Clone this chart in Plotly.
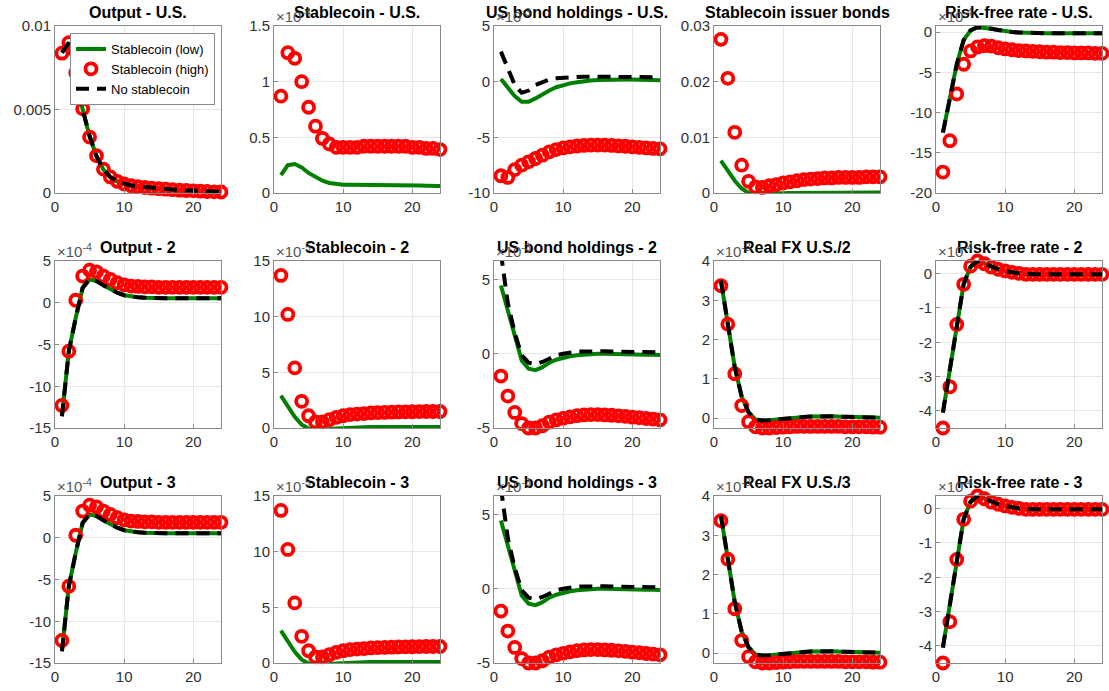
import plotly.graph_objects as go

periods = list(range(1, 25))

# Panel 1: Output - U.S.
out_us_low = [0.0084, 0.0090, 0.0072, 0.0050, 0.0034, 0.0022, 0.0014, 0.00095, 0.0007, 0.00055, 0.00045, 0.0004,
              0.00035, 0.0003, 0.00027, 0.00024, 0.00021, 0.00018, 0.00016, 0.00014, 0.00012, 0.0001, 0.00008, 0.00007]
out_us_high = [0.00837, 0.0090, 0.0072, 0.00504, 0.00335, 0.00223, 0.00143, 0.00096, 0.0007, 0.00054, 0.00044, 0.00038,
               0.00033, 0.00029, 0.00026, 0.00023, 0.0002, 0.00017, 0.00015, 0.00013, 0.00011, 0.00009, 0.00007, 0.00006]
out_us_none = out_us_low

# Panel 2: Stablecoin - U.S. (x1e-4)
sc_us_low = [0.16, 0.25, 0.26, 0.23, 0.18, 0.14, 0.11, 0.09, 0.08, 0.075, 0.075, 0.075,
             0.075, 0.075, 0.075, 0.073, 0.072, 0.07, 0.07, 0.068, 0.067, 0.065, 0.064, 0.063]
sc_us_high = [0.87, 1.26, 1.21, 1.0, 0.77, 0.60, 0.49, 0.44, 0.41, 0.41, 0.41, 0.41,
              0.42, 0.42, 0.42, 0.42, 0.42, 0.42, 0.42, 0.41, 0.41, 0.40, 0.40, 0.39]

# Panel 3: US bond holdings - U.S. (x1e-3)
bond_us_low = [0.25, -0.5, -1.3, -1.8, -1.8, -1.5, -1.1, -0.8, -0.5, -0.3, -0.15, -0.05,
               0.05, 0.1, 0.15, 0.18, 0.2, 0.2, 0.2, 0.2, 0.18, 0.16, 0.15, 0.12]
bond_us_high = [-8.45, -8.6, -7.9, -7.5, -7.2, -6.9, -6.6, -6.3, -6.1, -5.95, -5.85, -5.78,
                -5.73, -5.7, -5.7, -5.7, -5.73, -5.77, -5.8, -5.85, -5.9, -5.95, -6.0, -6.03]
bond_us_none = [2.7, 1.2, -0.3, -1.0, -0.8, -0.3, 0.0, 0.2, 0.3, 0.35, 0.4, 0.4,
                0.45, 0.45, 0.45, 0.45, 0.45, 0.45, 0.45, 0.42, 0.42, 0.4, 0.4, 0.4]

# Panel 4: Stablecoin issuer bonds
issuer_low = [0.0058, 0.0040, 0.0022, 0.0008, 0.0000, -0.0002, -0.0002, -0.00015, -0.0001, -0.00005, 0.0, 0.0,
              0.00002, 0.00003, 0.00004, 0.00005, 0.00006, 0.00007, 0.00008, 0.00009, 0.0001, 0.0001, 0.0001, 0.0001]
issuer_high = [0.0276, 0.0206, 0.0109, 0.0050, 0.0021, 0.0011, 0.0010, 0.0013, 0.0015, 0.0018, 0.0020, 0.0022,
               0.0024, 0.0025, 0.0026, 0.0027, 0.0027, 0.0028, 0.0028, 0.0028, 0.0028, 0.0029, 0.0029, 0.0029]

# Panel 5: Risk-free rate - U.S. (x1e-4)
rf_us_low = [-12.5, -8.2, -4.0, -1.0, 0.2, 0.6, 0.55, 0.4, 0.25, 0.1, 0.0, -0.05,
             -0.1, -0.1, -0.12, -0.15, -0.15, -0.15, -0.15, -0.15, -0.15, -0.15, -0.15, -0.15]
rf_us_high = [-17.4, -13.5, -7.7, -4.0, -2.35, -1.85, -1.7, -1.75, -1.95, -2.1, -2.2, -2.3,
              -2.35, -2.4, -2.45, -2.5, -2.5, -2.55, -2.55, -2.6, -2.6, -2.6, -2.65, -2.65]
rf_us_none = rf_us_low

# Panels 6/11: Output - 2 / 3 (x1e-4)
out_f_low = [-13.6, -5.8, -1.8, 1.8, 2.8, 2.6, 2.1, 1.6, 1.2, 0.9, 0.75, 0.65,
             0.6, 0.55, 0.55, 0.55, 0.55, 0.55, 0.55, 0.55, 0.55, 0.55, 0.55, 0.55]
out_f_high = [-12.3, -5.8, 0.3, 3.2, 3.9, 3.7, 3.2, 2.8, 2.4, 2.15, 2.0, 1.95,
              1.9, 1.9, 1.85, 1.85, 1.85, 1.85, 1.85, 1.85, 1.85, 1.85, 1.85, 1.85]
out_f_none = out_f_low

# Panels 7/12: Stablecoin - 2 / 3 (x1e-5)
sc_f_low = [2.9, 2.0, 1.0, 0.3, -0.05, -0.15, -0.15, -0.1, -0.05, 0.0, 0.03, 0.05,
            0.07, 0.08, 0.09, 0.1, 0.1, 0.1, 0.1, 0.1, 0.1, 0.1, 0.1, 0.1]
sc_f_high = [13.7, 10.2, 5.4, 2.4, 1.1, 0.55, 0.55, 0.75, 0.95, 1.1, 1.2, 1.25,
             1.3, 1.35, 1.38, 1.4, 1.42, 1.44, 1.45, 1.46, 1.47, 1.48, 1.48, 1.48]

# Panels 8/13: US bond holdings - 2 / 3 (x1e-3)
bond_f_low = [4.6, 2.9, 1.1, -0.45, -1.0, -1.1, -0.9, -0.6, -0.4, -0.27, -0.17, -0.1,
              -0.05, -0.02, 0.0, 0.0, 0.0, -0.02, -0.03, -0.05, -0.05, -0.06, -0.07, -0.08]
bond_f_high = [-1.5, -2.85, -3.95, -4.7, -5.0, -5.0, -4.85, -4.6, -4.45, -4.35, -4.25, -4.17,
               -4.12, -4.1, -4.1, -4.12, -4.14, -4.18, -4.22, -4.27, -4.31, -4.36, -4.4, -4.45]
bond_f_none = [6.8, 3.4, 1.4, -0.1, -0.6, -0.7, -0.55, -0.3, -0.1, 0.0, 0.1, 0.15,
               0.15, 0.17, 0.17, 0.17, 0.15, 0.15, 0.15, 0.12, 0.12, 0.1, 0.1, 0.1]

# Panels 9/14: Real FX (x1e-3)
fx_low = [3.5, 2.4, 1.3, 0.55, 0.15, -0.03, -0.06, -0.05, -0.03, -0.01, 0.0, 0.02,
          0.03, 0.04, 0.05, 0.05, 0.05, 0.04, 0.04, 0.03, 0.03, 0.02, 0.02, 0.01]
fx_high = [3.37, 2.39, 1.13, 0.32, -0.09, -0.22, -0.25, -0.25, -0.24, -0.23, -0.22, -0.21,
           -0.21, -0.21, -0.21, -0.21, -0.21, -0.21, -0.22, -0.22, -0.22, -0.22, -0.23, -0.23]
fx_none = fx_low

# Panels 10/15: Risk-free rate - 2 / 3 (x1e-4)
rf_f_low = [-4.05, -2.8, -1.45, -0.3, 0.2, 0.37, 0.3, 0.2, 0.13, 0.08, 0.04, 0.01,
            -0.01, -0.02, -0.02, -0.02, -0.02, -0.02, -0.02, -0.02, -0.02, -0.02, -0.02, -0.02]
rf_f_high = [-4.5, -3.3, -1.48, -0.31, 0.22, 0.37, 0.29, 0.19, 0.13, 0.08, 0.04, 0.01,
             -0.02, -0.02, -0.02, -0.02, -0.02, -0.02, -0.02, -0.02, -0.02, -0.02, -0.02, -0.02]
rf_f_none = rf_f_low

titles = ["Output - U.S.", "Stablecoin - U.S.", "US bond holdings - U.S.", "Stablecoin issuer bonds", "Risk-free rate - U.S.",
          "Output - 2", "Stablecoin - 2", "US bond holdings - 2", "Real FX U.S./2", "Risk-free rate - 2",
          "Output - 3", "Stablecoin - 3", "US bond holdings - 3", "Real FX U.S./3", "Risk-free rate - 3"]
exponents = [None, "-4", "-3", None, "-4",
             "-4", "-5", "-3", "-3", "-4",
             "-4", "-5", "-3", "-3", "-4"]
y_ranges = [[0, 0.01], [0, 1.5], [-10, 5], [0, 0.03], [-20, 0.75],
            [-15, 5], [0, 15], [-5, 6.25], [-0.25, 4], [-4.5, 0.37],
            [-15, 5], [0, 15], [-5, 6.25], [-0.25, 4], [-4.5, 0.37]]
y_ticks = [[0, 0.005, 0.01], [0, 0.5, 1, 1.5], [-10, -5, 0, 5], [0, 0.01, 0.02, 0.03], [-20, -15, -10, -5, 0],
           [-15, -10, -5, 0, 5], [0, 5, 10, 15], [-5, 0, 5], [0, 1, 2, 3, 4], [-4, -3, -2, -1, 0],
           [-15, -10, -5, 0, 5], [0, 5, 10, 15], [-5, 0, 5], [0, 1, 2, 3, 4], [-4, -3, -2, -1, 0]]
y_ticklabels = [["0", "0.005", "0.01"], ["0", "0.5", "1", "1.5"], ["-10", "-5", "0", "5"],
                ["0", "0.01", "0.02", "0.03"], ["-20", "-15", "-10", "-5", "0"],
                ["-15", "-10", "-5", "0", "5"], ["0", "5", "10", "15"], ["-5", "0", "5"],
                ["0", "1", "2", "3", "4"], ["-4", "-3", "-2", "-1", "0"],
                ["-15", "-10", "-5", "0", "5"], ["0", "5", "10", "15"], ["-5", "0", "5"],
                ["0", "1", "2", "3", "4"], ["-4", "-3", "-2", "-1", "0"]]
x_ticks = [0, 10, 20]

panel_low = [out_us_low, sc_us_low, bond_us_low, issuer_low, rf_us_low,
             out_f_low, sc_f_low, bond_f_low, fx_low, rf_f_low,
             out_f_low, sc_f_low, bond_f_low, fx_low, rf_f_low]
panel_high = [out_us_high, sc_us_high, bond_us_high, issuer_high, rf_us_high,
              out_f_high, sc_f_high, bond_f_high, fx_high, rf_f_high,
              out_f_high, sc_f_high, bond_f_high, fx_high, rf_f_high]
panel_none = [out_us_none, None, bond_us_none, None, rf_us_none,
              out_f_none, None, bond_f_none, fx_none, rf_f_none,
              out_f_none, None, bond_f_none, fx_none, rf_f_none]

W, H = 1109, 691
col_left = [55, 274, 494, 714, 936]
col_width = 166
row_top = [26, 261, 496]
row_height = 167

FONT = "Liberation Sans, Arial, sans-serif"
GREEN = "rgb(0,128,0)"
fig = go.Figure()
layout = {}
annotations = []

for i in range(15):
    r, c = divmod(i, 5)
    n = i + 1
    xa = "x" if n == 1 else f"x{n}"
    ya = "y" if n == 1 else f"y{n}"
    xkey = "xaxis" if n == 1 else f"xaxis{n}"
    ykey = "yaxis" if n == 1 else f"yaxis{n}"
    x0 = col_left[c] / W
    x1 = (col_left[c] + col_width) / W
    y1 = 1 - row_top[r] / H
    y0 = 1 - (row_top[r] + row_height) / H
    axis_common = dict(showline=True, mirror=True, linecolor="#8a8a8a", linewidth=1,
                       showgrid=True, gridcolor="#e6e6e6", gridwidth=1, zeroline=False,
                       ticks="inside", ticklen=4, tickcolor="#8a8a8a", automargin=False,
                       tickfont=dict(family=FONT, size=15, color="#303030"))
    layout[xkey] = dict(domain=[x0, x1], anchor=ya, range=[0, 24], tickvals=x_ticks,
                        ticktext=[str(t) for t in x_ticks], **axis_common)
    layout[ykey] = dict(domain=[y0, y1], anchor=xa, range=y_ranges[i], tickvals=y_ticks[i],
                        ticktext=y_ticklabels[i], **axis_common)
    first = (i == 0)
    fig.add_trace(go.Scatter(x=periods, y=panel_low[i], mode="lines", name="Stablecoin (low)",
                             line=dict(color=GREEN, width=4), xaxis=xa, yaxis=ya,
                             showlegend=first, legendgroup="low"))
    fig.add_trace(go.Scatter(x=periods, y=panel_high[i], mode="markers", name="Stablecoin (high)",
                             marker=dict(symbol="circle-open", size=11, color="red", line=dict(width=3.8, color="red")),
                             cliponaxis=False, xaxis=xa, yaxis=ya, showlegend=first, legendgroup="high"))
    if panel_none[i] is not None:
        fig.add_trace(go.Scatter(x=periods, y=panel_none[i], mode="lines", name="No stablecoin",
                                 line=dict(color="black", width=4, dash="13px,8px"), xaxis=xa, yaxis=ya,
                                 showlegend=first, legendgroup="none"))
    # title
    annotations.append(dict(text=f"<b>{titles[i]}</b>", x=(x0 + x1) / 2, y=y1, xref="paper", yref="paper",
                            xanchor="center", yanchor="bottom", yshift=3, showarrow=False,
                            font=dict(family=FONT, size=16, color="black")))
    if exponents[i] is not None:
        annotations.append(dict(text=f"×10<sup>{exponents[i]}</sup>", x=x0, y=y1, xref="paper", yref="paper",
                                xanchor="left", yanchor="bottom", yshift=-1, showarrow=False,
                                font=dict(family=FONT, size=15, color="#555555")))

fig.update_layout(**layout)
fig.update_layout(
    width=W, height=H, autosize=False,
    margin=dict(l=0, r=0, t=0, b=0, autoexpand=False),
    paper_bgcolor="white", plot_bgcolor="white",
    annotations=annotations,
    font=dict(family=FONT),
    legend=dict(x=70 / W, y=1 - 33 / H, xanchor="left", yanchor="top",
                bgcolor="white", bordercolor="#8a8a8a", borderwidth=1,
                font=dict(family=FONT, size=13, color="black"),
                tracegroupgap=0, itemwidth=30),
)

fig.write_html("out.html")
